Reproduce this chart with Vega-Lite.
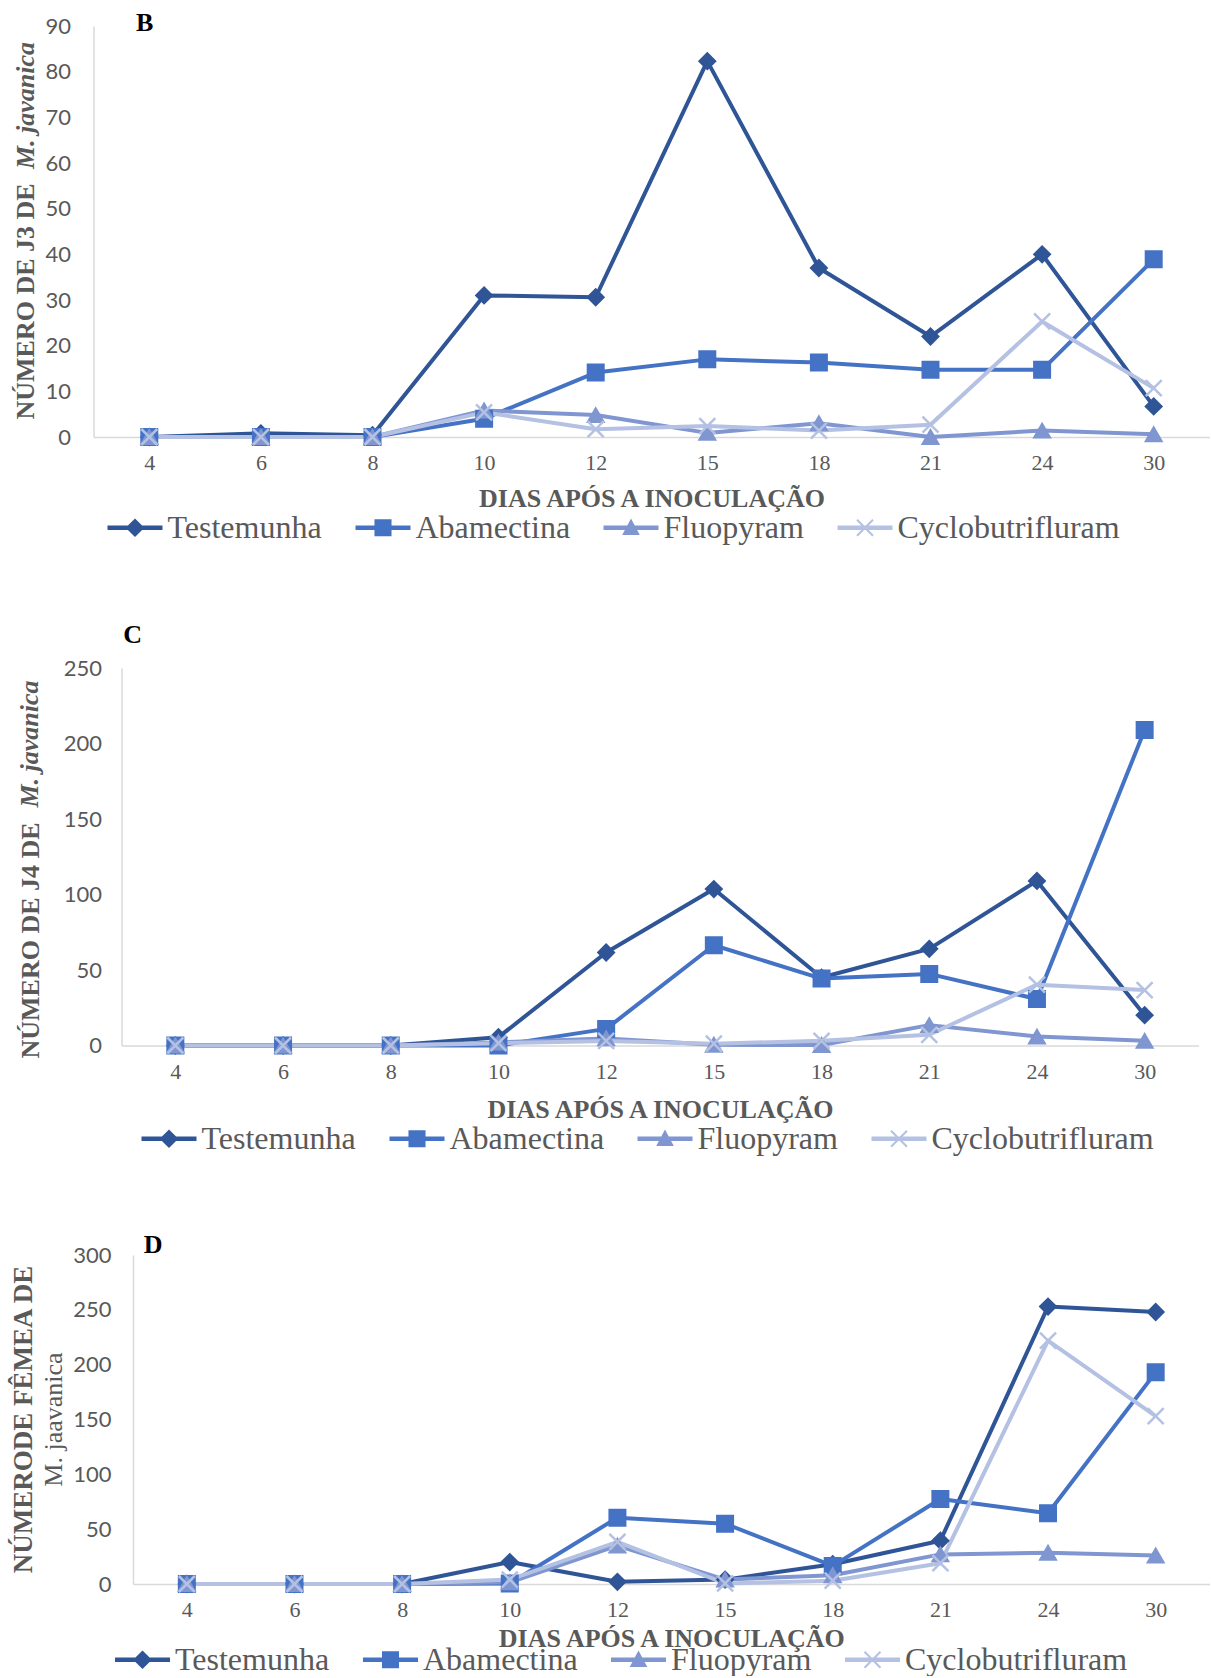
{
  "$schema": "https://vega.github.io/schema/vega-lite/v6.json",
  "background": "white",
  "padding": {"left": 9.5, "top": 10, "right": 0, "bottom": 0},
  "datasets": {
    "B": [
      {"dia": "4", "serie": "Testemunha", "valor": 0}, {"dia": "6", "serie": "Testemunha", "valor": 0.8}, {"dia": "8", "serie": "Testemunha", "valor": 0.4}, {"dia": "10", "serie": "Testemunha", "valor": 31}, {"dia": "12", "serie": "Testemunha", "valor": 30.6}, {"dia": "15", "serie": "Testemunha", "valor": 82.3}, {"dia": "18", "serie": "Testemunha", "valor": 37}, {"dia": "21", "serie": "Testemunha", "valor": 22}, {"dia": "24", "serie": "Testemunha", "valor": 40}, {"dia": "30", "serie": "Testemunha", "valor": 6.7},
      {"dia": "4", "serie": "Abamectina", "valor": 0}, {"dia": "6", "serie": "Abamectina", "valor": 0}, {"dia": "8", "serie": "Abamectina", "valor": 0}, {"dia": "10", "serie": "Abamectina", "valor": 4}, {"dia": "12", "serie": "Abamectina", "valor": 14.1}, {"dia": "15", "serie": "Abamectina", "valor": 17}, {"dia": "18", "serie": "Abamectina", "valor": 16.3}, {"dia": "21", "serie": "Abamectina", "valor": 14.7}, {"dia": "24", "serie": "Abamectina", "valor": 14.7}, {"dia": "30", "serie": "Abamectina", "valor": 38.9},
      {"dia": "4", "serie": "Fluopyram", "valor": 0}, {"dia": "6", "serie": "Fluopyram", "valor": 0}, {"dia": "8", "serie": "Fluopyram", "valor": 0}, {"dia": "10", "serie": "Fluopyram", "valor": 5.8}, {"dia": "12", "serie": "Fluopyram", "valor": 4.8}, {"dia": "15", "serie": "Fluopyram", "valor": 0.9}, {"dia": "18", "serie": "Fluopyram", "valor": 3}, {"dia": "21", "serie": "Fluopyram", "valor": 0}, {"dia": "24", "serie": "Fluopyram", "valor": 1.4}, {"dia": "30", "serie": "Fluopyram", "valor": 0.6},
      {"dia": "4", "serie": "Cyclobutrifluram", "valor": 0}, {"dia": "6", "serie": "Cyclobutrifluram", "valor": 0}, {"dia": "8", "serie": "Cyclobutrifluram", "valor": 0}, {"dia": "10", "serie": "Cyclobutrifluram", "valor": 5.4}, {"dia": "12", "serie": "Cyclobutrifluram", "valor": 1.7}, {"dia": "15", "serie": "Cyclobutrifluram", "valor": 2.4}, {"dia": "18", "serie": "Cyclobutrifluram", "valor": 1.4}, {"dia": "21", "serie": "Cyclobutrifluram", "valor": 2.7}, {"dia": "24", "serie": "Cyclobutrifluram", "valor": 25.3}, {"dia": "30", "serie": "Cyclobutrifluram", "valor": 10.7}
    ],
    "C": [
      {"dia": "4", "serie": "Testemunha", "valor": 0}, {"dia": "6", "serie": "Testemunha", "valor": 0}, {"dia": "8", "serie": "Testemunha", "valor": 0}, {"dia": "10", "serie": "Testemunha", "valor": 5.5}, {"dia": "12", "serie": "Testemunha", "valor": 61.6}, {"dia": "15", "serie": "Testemunha", "valor": 103.6}, {"dia": "18", "serie": "Testemunha", "valor": 45}, {"dia": "21", "serie": "Testemunha", "valor": 64}, {"dia": "24", "serie": "Testemunha", "valor": 109}, {"dia": "30", "serie": "Testemunha", "valor": 20.1},
      {"dia": "4", "serie": "Abamectina", "valor": 0}, {"dia": "6", "serie": "Abamectina", "valor": 0}, {"dia": "8", "serie": "Abamectina", "valor": 0}, {"dia": "10", "serie": "Abamectina", "valor": 0}, {"dia": "12", "serie": "Abamectina", "valor": 11}, {"dia": "15", "serie": "Abamectina", "valor": 66.4}, {"dia": "18", "serie": "Abamectina", "valor": 44.3}, {"dia": "21", "serie": "Abamectina", "valor": 47.4}, {"dia": "24", "serie": "Abamectina", "valor": 30.8}, {"dia": "30", "serie": "Abamectina", "valor": 209},
      {"dia": "4", "serie": "Fluopyram", "valor": 0}, {"dia": "6", "serie": "Fluopyram", "valor": 0}, {"dia": "8", "serie": "Fluopyram", "valor": 0}, {"dia": "10", "serie": "Fluopyram", "valor": 2}, {"dia": "12", "serie": "Fluopyram", "valor": 4.7}, {"dia": "15", "serie": "Fluopyram", "valor": 0.5}, {"dia": "18", "serie": "Fluopyram", "valor": 0.3}, {"dia": "21", "serie": "Fluopyram", "valor": 13.5}, {"dia": "24", "serie": "Fluopyram", "valor": 5.9}, {"dia": "30", "serie": "Fluopyram", "valor": 3.1},
      {"dia": "4", "serie": "Cyclobutrifluram", "valor": 0}, {"dia": "6", "serie": "Cyclobutrifluram", "valor": 0}, {"dia": "8", "serie": "Cyclobutrifluram", "valor": 0}, {"dia": "10", "serie": "Cyclobutrifluram", "valor": 1.5}, {"dia": "12", "serie": "Cyclobutrifluram", "valor": 3}, {"dia": "15", "serie": "Cyclobutrifluram", "valor": 1.2}, {"dia": "18", "serie": "Cyclobutrifluram", "valor": 3.1}, {"dia": "21", "serie": "Cyclobutrifluram", "valor": 7.1}, {"dia": "24", "serie": "Cyclobutrifluram", "valor": 40.3}, {"dia": "30", "serie": "Cyclobutrifluram", "valor": 36.7}
    ],
    "D": [
      {"dia": "4", "serie": "Testemunha", "valor": 0}, {"dia": "6", "serie": "Testemunha", "valor": 0}, {"dia": "8", "serie": "Testemunha", "valor": 0}, {"dia": "10", "serie": "Testemunha", "valor": 20}, {"dia": "12", "serie": "Testemunha", "valor": 2}, {"dia": "15", "serie": "Testemunha", "valor": 4}, {"dia": "18", "serie": "Testemunha", "valor": 18}, {"dia": "21", "serie": "Testemunha", "valor": 39.5}, {"dia": "24", "serie": "Testemunha", "valor": 253}, {"dia": "30", "serie": "Testemunha", "valor": 248},
      {"dia": "4", "serie": "Abamectina", "valor": 0}, {"dia": "6", "serie": "Abamectina", "valor": 0}, {"dia": "8", "serie": "Abamectina", "valor": 0}, {"dia": "10", "serie": "Abamectina", "valor": 0.5}, {"dia": "12", "serie": "Abamectina", "valor": 60.5}, {"dia": "15", "serie": "Abamectina", "valor": 55}, {"dia": "18", "serie": "Abamectina", "valor": 16.5}, {"dia": "21", "serie": "Abamectina", "valor": 77.5}, {"dia": "24", "serie": "Abamectina", "valor": 64.5}, {"dia": "30", "serie": "Abamectina", "valor": 193},
      {"dia": "4", "serie": "Fluopyram", "valor": 0}, {"dia": "6", "serie": "Fluopyram", "valor": 0}, {"dia": "8", "serie": "Fluopyram", "valor": 0}, {"dia": "10", "serie": "Fluopyram", "valor": 1.5}, {"dia": "12", "serie": "Fluopyram", "valor": 35}, {"dia": "15", "serie": "Fluopyram", "valor": 4}, {"dia": "18", "serie": "Fluopyram", "valor": 8}, {"dia": "21", "serie": "Fluopyram", "valor": 27}, {"dia": "24", "serie": "Fluopyram", "valor": 28.5}, {"dia": "30", "serie": "Fluopyram", "valor": 26},
      {"dia": "4", "serie": "Cyclobutrifluram", "valor": 0}, {"dia": "6", "serie": "Cyclobutrifluram", "valor": 0}, {"dia": "8", "serie": "Cyclobutrifluram", "valor": 0}, {"dia": "10", "serie": "Cyclobutrifluram", "valor": 4}, {"dia": "12", "serie": "Cyclobutrifluram", "valor": 38.5}, {"dia": "15", "serie": "Cyclobutrifluram", "valor": 0.5}, {"dia": "18", "serie": "Cyclobutrifluram", "valor": 3}, {"dia": "21", "serie": "Cyclobutrifluram", "valor": 19}, {"dia": "24", "serie": "Cyclobutrifluram", "valor": 222}, {"dia": "30", "serie": "Cyclobutrifluram", "valor": 153}
    ]
  },
  "columns": 1,
  "spacing": 77,
  "resolve": {"scale": {"color": "independent"}},
  "concat": [
    {
      "title": {"text": "B", "anchor": "start", "frame": "bounds", "dx": 123, "offset": -21, "font": "Liberation Serif", "fontSize": 26, "fontWeight": "bold", "color": "#000000"},
      "vconcat": [
        {
          "width": 1116, "height": 411,
          "data": {"name": "B"},
          "title": {"text": "M. javanica", "orient": "left", "anchor": "end", "frame": "group", "offset": -26, "dx": -16, "font": "Liberation Serif", "fontSize": 26, "fontWeight": "bold", "fontStyle": "italic", "color": "#595959"},
          "encoding": {
            "x": {"field": "dia", "type": "ordinal", "sort": ["4","6","8","10","12","15","18","21","24","30"], "axis": {"title": "DIAS APÓS A INOCULAÇÃO", "labelPadding": 15, "titlePadding": 12}},
            "y": {"field": "valor", "type": "quantitative", "scale": {"domain": [0, 90], "nice": false}, "axis": {"values": [0,10,20,30,40,50,60,70,80,90], "title": "NÚMERO DE J3 DE", "labelPadding": 23, "titlePadding": 6, "titleY": 393, "titleAlign": "left"}}
          },
          "layer": [
            {"mark": {"type": "line", "strokeWidth": 4, "strokeJoin": "round"},
             "encoding": {"color": {"field": "serie", "type": "nominal", "scale": {"domain": ["Testemunha","Abamectina","Fluopyram","Cyclobutrifluram"], "range": ["#2F5597","#4472C4","#7F96D1","#B4C1E3"]},
              "legend": {"title": null, "legendX": 14, "legendY": 474,
                "encode": {"symbols": {"update": {
                  "shape": {"signal": "datum.value === 'Testemunha' ? 'M-1,-0.078L1,-0.078L1,0.078L-1,0.078Z M0,-0.34L0.34,0L0,0.34L-0.34,0Z' : datum.value === 'Abamectina' ? 'M-1,-0.078L1,-0.078L1,0.078L-1,0.078Z M-0.31,-0.31L0.31,-0.31L0.31,0.31L-0.31,0.31Z' : datum.value === 'Fluopyram' ? 'M-1,-0.078L1,-0.078L1,0.078L-1,0.078Z M0,-0.34L0.32,0.26L-0.32,0.26Z' : 'M-1,-0.078L1,-0.078L1,0.078L-1,0.078Z M-0.264,-0.316L0.316,0.264L0.264,0.316L-0.316,-0.264Z M0.264,-0.316L0.316,-0.264L-0.264,0.316L-0.316,0.264Z'"},
                  "fill": {"signal": "datum.value === 'Testemunha' ? '#2F5597' : datum.value === 'Abamectina' ? '#4472C4' : datum.value === 'Fluopyram' ? '#7F96D1' : '#B4C1E3'"},
                  "strokeWidth": {"value": 0}, "size": {"value": 3025}, "opacity": {"value": 1}}}}}}}},
            {"transform": [{"filter": "datum.serie === 'Testemunha'"}], "mark": {"type": "point", "shape": "diamond", "filled": true, "size": 256, "color": "#2F5597", "stroke": "#2F5597", "strokeWidth": 2, "opacity": 1}},
            {"transform": [{"filter": "datum.serie === 'Abamectina'"}], "mark": {"type": "point", "shape": "square", "filled": true, "size": 256, "color": "#4472C4", "stroke": "#4472C4", "strokeWidth": 2, "opacity": 1}},
            {"transform": [{"filter": "datum.serie === 'Fluopyram'"}], "mark": {"type": "point", "shape": "triangle-up", "filled": true, "size": 256, "color": "#7F96D1", "stroke": "#7F96D1", "strokeWidth": 2, "opacity": 1}},
            {"transform": [{"filter": "datum.serie === 'Cyclobutrifluram'"}], "mark": {"type": "point", "shape": "M-1,-1L1,1M1,-1L-1,1", "filled": false, "size": 256, "color": "#B4C1E3", "strokeWidth": 2.5, "opacity": 1}}
          ]
        }
      ]
    },
    {
      "title": {"text": "C", "anchor": "start", "frame": "bounds", "dx": 106, "offset": 9.5, "font": "Liberation Serif", "fontSize": 26, "fontWeight": "bold", "color": "#000000"},
      "vconcat": [
        {
          "width": 1105, "height": 377.5,
          "data": {"name": "C"},
          "title": {"text": "M. javanica", "orient": "left", "anchor": "end", "frame": "group", "offset": -26, "dx": -12.5, "font": "Liberation Serif", "fontSize": 26, "fontWeight": "bold", "fontStyle": "italic", "color": "#595959"},
          "encoding": {
            "x": {"field": "dia", "type": "ordinal", "sort": ["4","6","8","10","12","15","18","21","24","30"], "scale": {"range": [28, 1105]}, "axis": {"title": "DIAS APÓS A INOCULAÇÃO", "labelPadding": 16, "titlePadding": 14}},
            "y": {"field": "valor", "type": "quantitative", "scale": {"domain": [0, 250], "nice": false}, "axis": {"values": [0,50,100,150,200,250], "offset": -28, "title": "NÚMERO DE J4 DE", "labelPadding": 20, "titlePadding": 20, "titleY": 390, "titleAlign": "left"}}
          },
          "layer": [
            {"mark": {"type": "line", "strokeWidth": 4, "strokeJoin": "round"},
             "encoding": {"color": {"field": "serie", "type": "nominal", "scale": {"domain": ["Testemunha","Abamectina","Fluopyram","Cyclobutrifluram"], "range": ["#2F5597","#4472C4","#7F96D1","#B4C1E3"]},
              "legend": {"title": null, "legendX": 48, "legendY": 443,
                "encode": {"symbols": {"update": {
                  "shape": {"signal": "datum.value === 'Testemunha' ? 'M-1,-0.078L1,-0.078L1,0.078L-1,0.078Z M0,-0.34L0.34,0L0,0.34L-0.34,0Z' : datum.value === 'Abamectina' ? 'M-1,-0.078L1,-0.078L1,0.078L-1,0.078Z M-0.31,-0.31L0.31,-0.31L0.31,0.31L-0.31,0.31Z' : datum.value === 'Fluopyram' ? 'M-1,-0.078L1,-0.078L1,0.078L-1,0.078Z M0,-0.34L0.32,0.26L-0.32,0.26Z' : 'M-1,-0.078L1,-0.078L1,0.078L-1,0.078Z M-0.264,-0.316L0.316,0.264L0.264,0.316L-0.316,-0.264Z M0.264,-0.316L0.316,-0.264L-0.264,0.316L-0.316,0.264Z'"},
                  "fill": {"signal": "datum.value === 'Testemunha' ? '#2F5597' : datum.value === 'Abamectina' ? '#4472C4' : datum.value === 'Fluopyram' ? '#7F96D1' : '#B4C1E3'"},
                  "strokeWidth": {"value": 0}, "size": {"value": 3025}, "opacity": {"value": 1}}}}}}}},
            {"transform": [{"filter": "datum.serie === 'Testemunha'"}], "mark": {"type": "point", "shape": "diamond", "filled": true, "size": 256, "color": "#2F5597", "stroke": "#2F5597", "strokeWidth": 2, "opacity": 1}},
            {"transform": [{"filter": "datum.serie === 'Abamectina'"}], "mark": {"type": "point", "shape": "square", "filled": true, "size": 256, "color": "#4472C4", "stroke": "#4472C4", "strokeWidth": 2, "opacity": 1}},
            {"transform": [{"filter": "datum.serie === 'Fluopyram'"}], "mark": {"type": "point", "shape": "triangle-up", "filled": true, "size": 256, "color": "#7F96D1", "stroke": "#7F96D1", "strokeWidth": 2, "opacity": 1}},
            {"transform": [{"filter": "datum.serie === 'Cyclobutrifluram'"}], "mark": {"type": "point", "shape": "M-1,-1L1,1M1,-1L-1,1", "filled": false, "size": 256, "color": "#B4C1E3", "strokeWidth": 2.5, "opacity": 1}}
          ]
        }
      ]
    },
    {
      "title": {"text": "D", "anchor": "start", "frame": "bounds", "dx": 134, "offset": -14, "font": "Liberation Serif", "fontSize": 26, "fontWeight": "bold", "color": "#000000"},
      "vconcat": [
        {
          "width": 1116, "height": 329,
          "data": {"name": "D"},
          "title": {"text": "NÚMERODE FÊMEA DE", "subtitle": "M. jaavanica", "orient": "left", "anchor": "middle", "frame": "group", "offset": 5, "font": "Liberation Serif", "fontSize": 27, "fontWeight": "bold", "color": "#595959", "subtitleFont": "Liberation Serif", "subtitleFontSize": 26, "subtitleFontWeight": "normal", "subtitleColor": "#595959", "subtitlePadding": 3},
          "encoding": {
            "x": {"field": "dia", "type": "ordinal", "sort": ["4","6","8","10","12","15","18","21","24","30"], "scale": {"range": [39.5, 1116]}, "axis": {"title": "DIAS APÓS A INOCULAÇÃO", "labelPadding": 15, "titlePadding": 5}},
            "y": {"field": "valor", "type": "quantitative", "scale": {"domain": [0, 300], "nice": false}, "axis": {"values": [0,50,100,150,200,250,300], "offset": -39.5, "title": null, "labelPadding": 22}}
          },
          "layer": [
            {"mark": {"type": "line", "strokeWidth": 4, "strokeJoin": "round"},
             "encoding": {"color": {"field": "serie", "type": "nominal", "scale": {"domain": ["Testemunha","Abamectina","Fluopyram","Cyclobutrifluram"], "range": ["#2F5597","#4472C4","#7F96D1","#B4C1E3"]},
              "legend": {"title": null, "legendX": 21.5, "legendY": 377,
                "encode": {"symbols": {"update": {
                  "shape": {"signal": "datum.value === 'Testemunha' ? 'M-1,-0.078L1,-0.078L1,0.078L-1,0.078Z M0,-0.34L0.34,0L0,0.34L-0.34,0Z' : datum.value === 'Abamectina' ? 'M-1,-0.078L1,-0.078L1,0.078L-1,0.078Z M-0.31,-0.31L0.31,-0.31L0.31,0.31L-0.31,0.31Z' : datum.value === 'Fluopyram' ? 'M-1,-0.078L1,-0.078L1,0.078L-1,0.078Z M0,-0.34L0.32,0.26L-0.32,0.26Z' : 'M-1,-0.078L1,-0.078L1,0.078L-1,0.078Z M-0.264,-0.316L0.316,0.264L0.264,0.316L-0.316,-0.264Z M0.264,-0.316L0.316,-0.264L-0.264,0.316L-0.316,0.264Z'"},
                  "fill": {"signal": "datum.value === 'Testemunha' ? '#2F5597' : datum.value === 'Abamectina' ? '#4472C4' : datum.value === 'Fluopyram' ? '#7F96D1' : '#B4C1E3'"},
                  "strokeWidth": {"value": 0}, "size": {"value": 3025}, "opacity": {"value": 1}}}}}}}},
            {"transform": [{"filter": "datum.serie === 'Testemunha'"}], "mark": {"type": "point", "shape": "diamond", "filled": true, "size": 256, "color": "#2F5597", "stroke": "#2F5597", "strokeWidth": 2, "opacity": 1}},
            {"transform": [{"filter": "datum.serie === 'Abamectina'"}], "mark": {"type": "point", "shape": "square", "filled": true, "size": 256, "color": "#4472C4", "stroke": "#4472C4", "strokeWidth": 2, "opacity": 1}},
            {"transform": [{"filter": "datum.serie === 'Fluopyram'"}], "mark": {"type": "point", "shape": "triangle-up", "filled": true, "size": 256, "color": "#7F96D1", "stroke": "#7F96D1", "strokeWidth": 2, "opacity": 1}},
            {"transform": [{"filter": "datum.serie === 'Cyclobutrifluram'"}], "mark": {"type": "point", "shape": "M-1,-1L1,1M1,-1L-1,1", "filled": false, "size": 256, "color": "#B4C1E3", "strokeWidth": 2.5, "opacity": 1}}
          ]
        }
      ]
    }
  ],
  "config": {
    "view": {"stroke": null},
    "axis": {"ticks": false, "tickSize": 0, "grid": false, "domainColor": "#D9D9D9", "domainWidth": 1.5, "labelColor": "#595959", "titleFont": "Liberation Serif", "titleFontSize": 26, "titleFontWeight": "bold", "titleColor": "#595959"},
    "axisX": {"labelFont": "Liberation Serif", "labelFontSize": 22, "labelAngle": 0},
    "axisY": {"labelFont": "Lato", "labelFontSize": 22},
    "legend": {"orient": "none", "direction": "horizontal", "columns": 4, "columnPadding": 33, "labelOffset": 5, "labelFont": "Liberation Serif", "labelFontSize": 32, "labelColor": "#595959", "labelLimit": 0, "symbolSize": 3025, "padding": 0}
  }
}
